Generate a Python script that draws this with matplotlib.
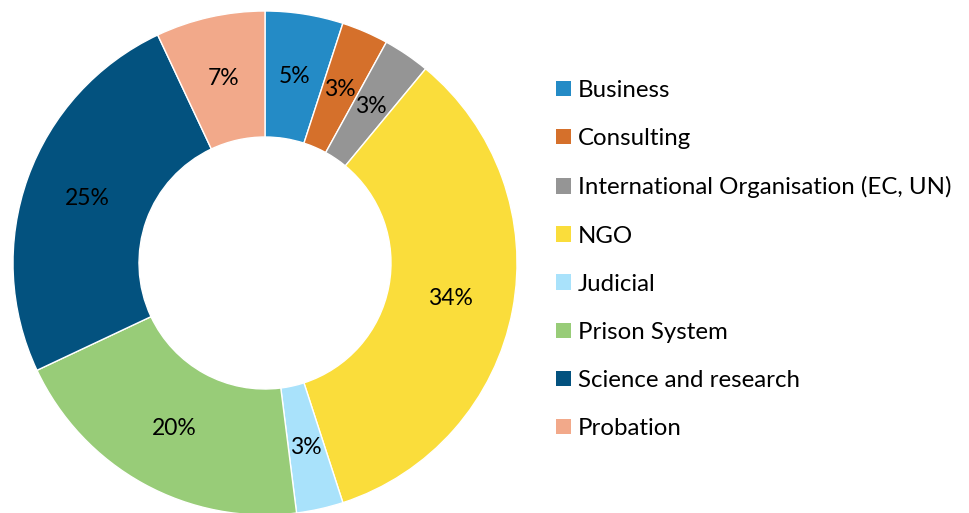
import matplotlib
matplotlib.use("Agg")
import matplotlib.pyplot as plt
from matplotlib.patches import Patch

# sectors of employment, share of respondents (%)
sectors = ["Business", "Consulting", "International Organisation (EC, UN)", "NGO",
           "Judicial", "Prison System", "Science and research", "Probation"]
shares = [5, 3, 3, 34, 3, 20, 25, 7]
colors = ["#248BC6", "#D5702B", "#959595", "#FADD3B",
          "#A9E2FB", "#98CC78", "#03527F", "#F2A98A"]

plt.rcParams["font.family"] = ["Lato", "DejaVu Sans"]

W, H = 970, 513
fig = plt.figure(figsize=(W / 100, H / 100), dpi=100)
ax = fig.add_axes([0, 0, 1, 1])

cx, cy, R = 265, 250, 252
wedges, _, autotexts = ax.pie(
    shares, colors=colors, startangle=90, counterclock=False,
    center=(cx, cy), radius=R, frame=True,
    autopct="%d%%", pctdistance=0.75,
    wedgeprops=dict(width=R * 0.5, edgecolor="white", linewidth=1),
    textprops=dict(fontsize=16.5, color="black"),
)
ax.set_xlim(0, W)
ax.set_ylim(0, H)
ax.set_aspect("equal")
ax.axis("off")

handles = [Patch(facecolor=c, edgecolor="none") for c in colors]
ax.legend(handles, sectors, loc="upper left", bbox_to_anchor=(556 / W, 1 - 80 / H),
          bbox_transform=fig.transFigure, frameon=False, fontsize=17.3,
          handlelength=0.62, handleheight=0.62, handletextpad=0.3,
          labelspacing=1.13, borderaxespad=0, borderpad=0)

fig.savefig("out.png", dpi=100, facecolor="white")
